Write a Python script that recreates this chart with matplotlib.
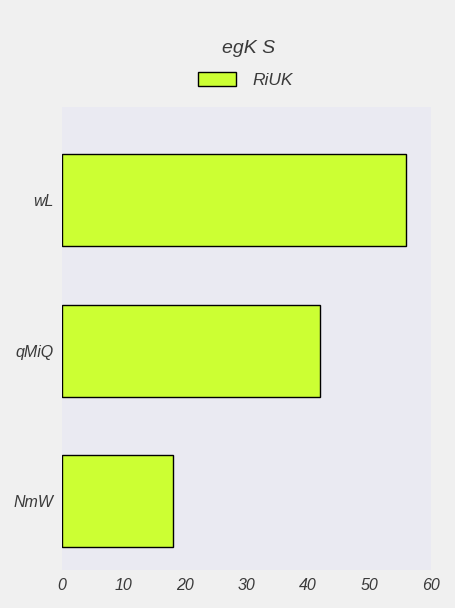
import numpy as np
import matplotlib.pyplot as plt

categories = ['NmW', 'qMiQ', 'wL']
values = [18, 42, 56]
series_name = 'RiUK'
title = 'egK S'
xticks = [0, 10, 20, 30, 40, 50, 60]

plt.rcParams['font.family'] = ['Liberation Sans', 'DejaVu Sans']
plt.rcParams['font.style'] = 'italic'

fig = plt.figure(figsize=(4.56, 6.08), dpi=100, facecolor='#f0f0f0')
ax = fig.add_axes([0.136, 0.0625, 0.809, 0.7615])
ax.set_facecolor('#eaeaf2')

y = np.arange(len(categories))
ax.barh(y, values, height=0.61, color='#ccff33', edgecolor='black', linewidth=1, label=series_name)

ax.set_xlim(0, 60)
ax.set_ylim(-0.455, 2.617)
ax.set_yticks(y)
ax.set_yticklabels(categories)
ax.set_xticks(xticks)
ax.tick_params(axis='both', length=0, labelsize=11.5, colors='#3a3a3a', pad=6)
for s in ax.spines.values():
    s.set_visible(False)

fig.text(0.545, 0.921, title, ha='center', va='center', fontsize=14, color='#3a3a3a', style='italic')
fig.legend(loc='center', bbox_to_anchor=(0.538, 0.868), frameon=False, fontsize=12.5,
           handlelength=2.2, handleheight=0.8, handletextpad=0.9, labelcolor='#3a3a3a')

fig.savefig('out.png', dpi=100, facecolor=fig.get_facecolor())
